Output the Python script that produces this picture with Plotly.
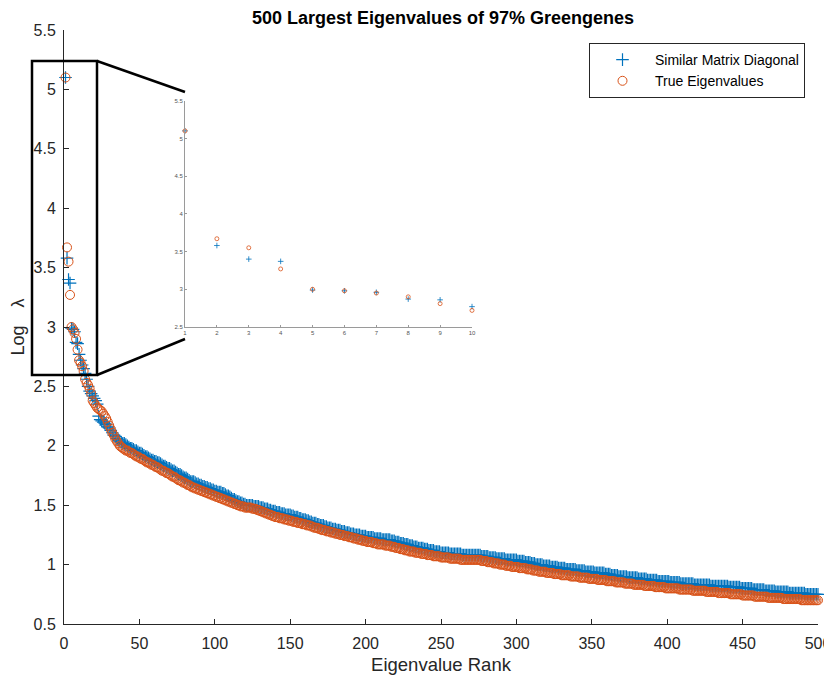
import plotly.graph_objects as go

title_text = "500 Largest Eigenvalues of 97% Greengenes"
series_names = ["Similar Matrix Diagonal", "True Eigenvalues"]
x_ticks = [0, 50, 100, 150, 200, 250, 300, 350, 400, 450, 500]
y_ticks = [0.5, 1, 1.5, 2, 2.5, 3, 3.5, 4, 4.5, 5, 5.5]
y_tick_labels = ["0.5", "1", "1.5", "2", "2.5", "3", "3.5", "4", "4.5", "5", "5.5"]
inset_x_ticks = [1, 2, 3, 4, 5, 6, 7, 8, 9, 10]
inset_y_ticks = [2.5, 3, 3.5, 4, 4.5, 5, 5.5]
inset_y_labels = ["2.5", "3", "3.5", "4", "4.5", "5", "5.5"]

similar_diag = [
    5.10, 3.58, 3.40, 3.37, 2.99, 2.98, 2.96, 2.87, 2.86, 2.77,
    2.72, 2.68, 2.65, 2.61, 2.56, 2.50, 2.46, 2.44, 2.42, 2.40,
    2.38, 2.35, 2.25, 2.22, 2.21, 2.20, 2.19, 2.18, 2.16, 2.15,
    2.13, 2.11, 2.09, 2.08, 2.06, 2.05, 2.04, 2.03, 2.02, 2.02,
    2.01, 2.00, 1.99, 1.98, 1.98, 1.97, 1.96, 1.96, 1.95, 1.94,
    1.94, 1.93, 1.92, 1.91, 1.91, 1.90, 1.89, 1.88, 1.88, 1.87,
    1.87, 1.86, 1.86, 1.85, 1.84, 1.83, 1.83, 1.82, 1.81, 1.81,
    1.80, 1.79, 1.79, 1.78, 1.77, 1.76, 1.76, 1.75, 1.74, 1.73,
    1.73, 1.72, 1.71, 1.70, 1.70, 1.70, 1.69, 1.68, 1.68, 1.67,
    1.67, 1.66, 1.66, 1.65, 1.65, 1.64, 1.64, 1.63, 1.63, 1.62,
    1.62, 1.61, 1.61, 1.61, 1.60, 1.60, 1.59, 1.58, 1.58, 1.57,
    1.56, 1.55, 1.55, 1.54, 1.53, 1.53, 1.52, 1.52, 1.51, 1.51,
    1.50, 1.50, 1.50, 1.50, 1.50, 1.49, 1.49, 1.49, 1.49, 1.48,
    1.48, 1.48, 1.47, 1.47, 1.47, 1.46, 1.46, 1.45, 1.45, 1.45,
    1.44, 1.44, 1.44, 1.43, 1.43, 1.43, 1.42, 1.42, 1.42, 1.42,
    1.41, 1.41, 1.40, 1.40, 1.40, 1.39, 1.39, 1.38, 1.38, 1.38,
    1.37, 1.37, 1.36, 1.36, 1.35, 1.35, 1.35, 1.34, 1.34, 1.33,
    1.33, 1.33, 1.32, 1.32, 1.31, 1.31, 1.31, 1.30, 1.30, 1.30,
    1.29, 1.29, 1.29, 1.28, 1.28, 1.28, 1.27, 1.27, 1.27, 1.26,
    1.26, 1.26, 1.25, 1.25, 1.25, 1.25, 1.24, 1.24, 1.24, 1.24,
    1.23, 1.23, 1.23, 1.23, 1.23, 1.22, 1.22, 1.22, 1.22, 1.22,
    1.21, 1.21, 1.21, 1.21, 1.21, 1.21, 1.20, 1.20, 1.20, 1.19,
    1.19, 1.19, 1.18, 1.18, 1.18, 1.17, 1.17, 1.17, 1.16, 1.16,
    1.16, 1.15, 1.15, 1.15, 1.14, 1.14, 1.14, 1.14, 1.13, 1.13,
    1.13, 1.12, 1.12, 1.12, 1.12, 1.11, 1.11, 1.11, 1.11, 1.10,
    1.10, 1.10, 1.10, 1.10, 1.10, 1.09, 1.09, 1.09, 1.09, 1.09,
    1.09, 1.09, 1.09, 1.08, 1.08, 1.08, 1.08, 1.08, 1.08, 1.08,
    1.08, 1.08, 1.08, 1.08, 1.08, 1.08, 1.07, 1.07, 1.07, 1.07,
    1.07, 1.06, 1.06, 1.06, 1.06, 1.06, 1.05, 1.05, 1.05, 1.05,
    1.05, 1.05, 1.04, 1.04, 1.04, 1.04, 1.04, 1.04, 1.04, 1.04,
    1.03, 1.03, 1.03, 1.03, 1.03, 1.02, 1.02, 1.02, 1.02, 1.01,
    1.01, 1.01, 1.00, 1.00, 1.00, 1.00, 1.00, 0.99, 0.99, 0.99,
    0.99, 0.99, 0.98, 0.98, 0.98, 0.98, 0.98, 0.97, 0.97, 0.97,
    0.97, 0.97, 0.96, 0.96, 0.96, 0.96, 0.96, 0.96, 0.96, 0.95,
    0.95, 0.95, 0.95, 0.95, 0.95, 0.94, 0.94, 0.94, 0.94, 0.94,
    0.94, 0.93, 0.93, 0.93, 0.93, 0.93, 0.93, 0.93, 0.92, 0.92,
    0.92, 0.92, 0.91, 0.91, 0.91, 0.91, 0.91, 0.90, 0.90, 0.90,
    0.90, 0.90, 0.90, 0.89, 0.89, 0.89, 0.89, 0.89, 0.89, 0.89,
    0.88, 0.88, 0.88, 0.88, 0.88, 0.88, 0.87, 0.87, 0.87, 0.87,
    0.87, 0.87, 0.87, 0.86, 0.86, 0.86, 0.86, 0.86, 0.86, 0.86,
    0.86, 0.85, 0.85, 0.85, 0.85, 0.85, 0.85, 0.85, 0.84, 0.84,
    0.84, 0.84, 0.84, 0.84, 0.84, 0.84, 0.84, 0.83, 0.83, 0.83,
    0.83, 0.83, 0.83, 0.83, 0.83, 0.83, 0.83, 0.83, 0.82, 0.82,
    0.82, 0.82, 0.82, 0.82, 0.82, 0.82, 0.82, 0.82, 0.82, 0.82,
    0.81, 0.81, 0.81, 0.81, 0.81, 0.81, 0.81, 0.81, 0.80, 0.80,
    0.80, 0.80, 0.80, 0.80, 0.80, 0.80, 0.79, 0.79, 0.79, 0.79,
    0.79, 0.79, 0.79, 0.79, 0.78, 0.78, 0.78, 0.78, 0.78, 0.78,
    0.78, 0.77, 0.77, 0.77, 0.77, 0.77, 0.77, 0.77, 0.77, 0.77,
    0.76, 0.76, 0.76, 0.76, 0.76, 0.76, 0.76, 0.76, 0.76, 0.76,
    0.76, 0.75, 0.75, 0.75, 0.75, 0.75, 0.75, 0.75, 0.75, 0.75,
]

true_eig = [
    5.10, 3.67, 3.55, 3.27, 3.00, 2.98, 2.95, 2.90, 2.81, 2.72,
    2.70, 2.67, 2.63, 2.56, 2.53, 2.51, 2.48, 2.44, 2.38, 2.36,
    2.34, 2.32, 2.31, 2.30, 2.29, 2.27, 2.25, 2.23, 2.20, 2.17,
    2.14, 2.11, 2.09, 2.06, 2.04, 2.02, 2.00, 1.99, 1.98, 1.97,
    1.96, 1.96, 1.95, 1.94, 1.94, 1.93, 1.92, 1.91, 1.91, 1.90,
    1.89, 1.89, 1.88, 1.87, 1.86, 1.86, 1.85, 1.84, 1.84, 1.83,
    1.82, 1.82, 1.81, 1.80, 1.79, 1.79, 1.78, 1.77, 1.77, 1.76,
    1.75, 1.74, 1.74, 1.73, 1.72, 1.71, 1.71, 1.70, 1.69, 1.69,
    1.68, 1.67, 1.67, 1.66, 1.65, 1.65, 1.64, 1.64, 1.63, 1.63,
    1.62, 1.62, 1.61, 1.61, 1.60, 1.60, 1.59, 1.59, 1.58, 1.58,
    1.57, 1.57, 1.56, 1.56, 1.55, 1.55, 1.54, 1.54, 1.53, 1.53,
    1.52, 1.52, 1.51, 1.51, 1.50, 1.50, 1.49, 1.49, 1.49, 1.48,
    1.48, 1.48, 1.48, 1.48, 1.47, 1.47, 1.47, 1.46, 1.46, 1.45,
    1.45, 1.44, 1.44, 1.43, 1.43, 1.42, 1.42, 1.41, 1.41, 1.40,
    1.40, 1.40, 1.39, 1.39, 1.39, 1.38, 1.38, 1.38, 1.37, 1.37,
    1.37, 1.36, 1.36, 1.36, 1.35, 1.35, 1.35, 1.34, 1.34, 1.34,
    1.33, 1.33, 1.33, 1.32, 1.32, 1.31, 1.31, 1.31, 1.30, 1.30,
    1.29, 1.29, 1.29, 1.28, 1.28, 1.28, 1.27, 1.27, 1.27, 1.26,
    1.26, 1.26, 1.25, 1.25, 1.25, 1.24, 1.24, 1.24, 1.23, 1.23,
    1.23, 1.22, 1.22, 1.22, 1.21, 1.21, 1.21, 1.20, 1.20, 1.20,
    1.19, 1.19, 1.19, 1.19, 1.18, 1.18, 1.18, 1.17, 1.17, 1.17,
    1.17, 1.17, 1.16, 1.16, 1.16, 1.16, 1.15, 1.15, 1.15, 1.14,
    1.14, 1.14, 1.13, 1.13, 1.13, 1.12, 1.12, 1.12, 1.11, 1.11,
    1.11, 1.11, 1.10, 1.10, 1.10, 1.10, 1.09, 1.09, 1.09, 1.09,
    1.08, 1.08, 1.08, 1.08, 1.07, 1.07, 1.07, 1.07, 1.07, 1.06,
    1.06, 1.06, 1.06, 1.06, 1.06, 1.05, 1.05, 1.05, 1.05, 1.05,
    1.05, 1.05, 1.04, 1.04, 1.04, 1.04, 1.04, 1.04, 1.04, 1.04,
    1.04, 1.04, 1.04, 1.04, 1.04, 1.04, 1.03, 1.03, 1.03, 1.03,
    1.02, 1.02, 1.02, 1.02, 1.01, 1.01, 1.01, 1.01, 1.00, 1.00,
    1.00, 1.00, 0.99, 0.99, 0.99, 0.99, 0.98, 0.98, 0.98, 0.98,
    0.98, 0.97, 0.97, 0.97, 0.97, 0.97, 0.96, 0.96, 0.96, 0.96,
    0.95, 0.95, 0.95, 0.95, 0.94, 0.94, 0.94, 0.94, 0.94, 0.93,
    0.93, 0.93, 0.93, 0.93, 0.92, 0.92, 0.92, 0.92, 0.92, 0.91,
    0.91, 0.91, 0.91, 0.91, 0.91, 0.90, 0.90, 0.90, 0.90, 0.90,
    0.90, 0.89, 0.89, 0.89, 0.89, 0.89, 0.89, 0.88, 0.88, 0.88,
    0.88, 0.88, 0.88, 0.87, 0.87, 0.87, 0.87, 0.87, 0.87, 0.86,
    0.86, 0.86, 0.86, 0.86, 0.86, 0.85, 0.85, 0.85, 0.85, 0.85,
    0.85, 0.84, 0.84, 0.84, 0.84, 0.84, 0.84, 0.83, 0.83, 0.83,
    0.83, 0.83, 0.83, 0.83, 0.82, 0.82, 0.82, 0.82, 0.82, 0.82,
    0.82, 0.81, 0.81, 0.81, 0.81, 0.81, 0.81, 0.81, 0.80, 0.80,
    0.80, 0.80, 0.80, 0.80, 0.80, 0.80, 0.80, 0.79, 0.79, 0.79,
    0.79, 0.79, 0.79, 0.79, 0.79, 0.79, 0.78, 0.78, 0.78, 0.78,
    0.78, 0.78, 0.78, 0.78, 0.78, 0.77, 0.77, 0.77, 0.77, 0.77,
    0.77, 0.77, 0.77, 0.76, 0.76, 0.76, 0.76, 0.76, 0.76, 0.76,
    0.76, 0.75, 0.75, 0.75, 0.75, 0.75, 0.75, 0.75, 0.75, 0.74,
    0.74, 0.74, 0.74, 0.74, 0.74, 0.74, 0.74, 0.73, 0.73, 0.73,
    0.73, 0.73, 0.73, 0.73, 0.73, 0.73, 0.72, 0.72, 0.72, 0.72,
    0.72, 0.72, 0.72, 0.72, 0.72, 0.72, 0.71, 0.71, 0.71, 0.71,
    0.71, 0.71, 0.71, 0.71, 0.71, 0.71, 0.71, 0.71, 0.70, 0.70,
    0.70, 0.70, 0.70, 0.70, 0.70, 0.70, 0.70, 0.70, 0.70, 0.70,
]

ranks = list(range(1, len(similar_diag) + 1))
inset_n = 10

BLUE = "#0072BD"
RED = "#D95319"
AX = "#262626"
FONT = "Liberation Sans, Arial, Helvetica, sans-serif"

# page body has an 8px margin; figure is sized/offset so the plot lands on
# the same window pixels as the reference
OFF = 8
W, H = 832 - OFF, 675 - OFF
L, R, T, B = 64 - OFF, 14, 30 - OFF, 51
PW, PH = W - L - R, H - T - B  # 754 x 594


def px_x(p):
    """window pixel x -> paper fraction"""
    return (p - 64) / PW


def px_y(p):
    """window pixel y -> paper fraction"""
    return (624 - p) / PH


fig = go.Figure()
fig.add_trace(go.Scatter(
    x=ranks, y=similar_diag, mode="markers", name=series_names[0],
    marker=dict(symbol="cross-thin-open", size=9, color=BLUE,
                line=dict(color=BLUE, width=1.2)),
    cliponaxis=False,
))
fig.add_trace(go.Scatter(
    x=ranks, y=true_eig, mode="markers", name=series_names[1],
    marker=dict(symbol="circle-open", size=9, color=RED,
                line=dict(color=RED, width=1)),
    cliponaxis=False,
))
fig.add_trace(go.Scatter(
    x=ranks[:inset_n], y=similar_diag[:inset_n], mode="markers", showlegend=False,
    xaxis="x2", yaxis="y2",
    marker=dict(symbol="cross-thin-open", size=4, color=BLUE,
                line=dict(color=BLUE, width=0.8)),
    cliponaxis=False,
))
fig.add_trace(go.Scatter(
    x=ranks[:inset_n], y=true_eig[:inset_n], mode="markers", showlegend=False,
    xaxis="x2", yaxis="y2",
    marker=dict(symbol="circle-open", size=4, color=RED,
                line=dict(color=RED, width=0.8)),
    cliponaxis=False,
))

axis_common = dict(
    showgrid=False, zeroline=False, showline=True, linecolor=AX, linewidth=1,
    ticks="inside", ticklen=5, tickcolor=AX, tickwidth=1,
    tickfont=dict(family=FONT, size=16, color=AX),
    mirror=False, automargin=False,
)

inset_axis = dict(
    showgrid=False, zeroline=False, showline=True, automargin=False,
    linecolor="#9a9a9a", linewidth=1, ticks="inside", ticklen=2,
    tickcolor="#9a9a9a", tickfont=dict(family=FONT, size=6, color="#555555"),
)

inset_x0, inset_x1 = px_x(185), px_x(472)
inset_y0, inset_y1 = px_y(327), px_y(100.7)

fig.update_layout(
    width=W, height=H,
    margin=dict(l=L, r=R, t=T, b=B, pad=0, autoexpand=False),
    paper_bgcolor="white", plot_bgcolor="white",
    title=dict(text="<b>" + title_text + "</b>", x=(443 - OFF) / W,
               xanchor="center", y=1 - (18 - OFF) / H, yanchor="middle",
               font=dict(family=FONT, size=18, color="black")),
    xaxis=dict(range=[0, 500], tickvals=x_ticks, domain=[0, 1], ticklabelstandoff=5,
               title=dict(text="Eigenvalue Rank", font=dict(family=FONT, size=18.5, color=AX), standoff=9),
               **axis_common),
    yaxis=dict(range=[0.5, 5.5], tickvals=y_ticks, ticktext=y_tick_labels, domain=[0, 1],
               ticklabelstandoff=4,
               title=dict(text="Log\u2003λ", font=dict(family=FONT, size=18, color=AX), standoff=8),
               **axis_common),
    xaxis2=dict(range=[1, 10], tickvals=inset_x_ticks, domain=[inset_x0, inset_x1],
                anchor="y2", **inset_axis),
    yaxis2=dict(range=[2.5, 5.5], tickvals=inset_y_ticks, ticktext=inset_y_labels,
                domain=[inset_y0, inset_y1], anchor="x2", **inset_axis),
    legend=dict(x=px_x(805), y=px_y(43), xanchor="right", yanchor="top",
                bgcolor="white", bordercolor=AX, borderwidth=1,
                font=dict(family=FONT, size=14, color="black"),
                itemwidth=55, tracegroupgap=0),
    showlegend=True,
)

rect_x0, rect_x1 = px_x(32), px_x(97)
rect_y0, rect_y1 = px_y(375), px_y(61)
fig.add_shape(type="rect", xref="paper", yref="paper",
              x0=rect_x0, x1=rect_x1, y0=rect_y0, y1=rect_y1,
              line=dict(color="black", width=2.5), fillcolor="rgba(0,0,0,0)", layer="above")
fig.add_shape(type="line", xref="paper", yref="paper",
              x0=rect_x1, y0=rect_y1, x1=px_x(185), y1=px_y(92),
              line=dict(color="black", width=2.5), layer="above")
fig.add_shape(type="line", xref="paper", yref="paper",
              x0=rect_x1, y0=rect_y0, x1=px_x(185), y1=px_y(339),
              line=dict(color="black", width=2.5), layer="above")

fig.write_html("out.html")
